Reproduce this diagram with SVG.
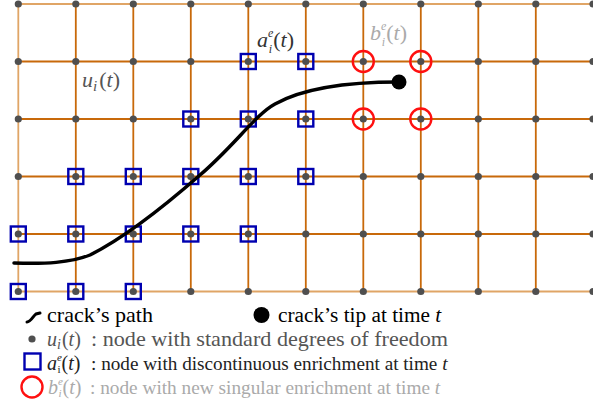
<svg xmlns="http://www.w3.org/2000/svg" width="593" height="407" viewBox="0 0 593 407">
<style>
.g{stroke:#c8690a;stroke-width:1.8;fill:none}
.ge{stroke:#e0a566;stroke-width:1.8;fill:none}
.d{fill:#4f4f4f}
.sq{fill:none;stroke:#0000b0;stroke-width:2.4}
.ci{fill:none;stroke:#ff1010;stroke-width:2.4}
.t{font-family:"Liberation Serif","Times New Roman",serif;font-size:20px}
.lb{font-size:22px}
.it{font-style:italic}
.crack{fill:none;stroke:#000;stroke-width:3.5;stroke-linecap:round}
</style>
<defs>
<circle id="dot" r="3.6" class="d"/>
<rect id="sqm" x="-7.5" y="-7.5" width="15" height="15" class="sq"/>
<circle id="cim" r="10.5" class="ci"/>
</defs>
<rect width="593" height="407" fill="#fff"/>
<g id="grid">
<g class="g">
<line x1="75.8" y1="4" x2="75.8" y2="291.5"/>
<line x1="133.3" y1="4" x2="133.3" y2="291.5"/>
<line x1="190.8" y1="4" x2="190.8" y2="291.5"/>
<line x1="248.3" y1="4" x2="248.3" y2="291.5"/>
<line x1="305.8" y1="4" x2="305.8" y2="291.5"/>
<line x1="363.3" y1="4" x2="363.3" y2="291.5"/>
<line x1="420.8" y1="4" x2="420.8" y2="291.5"/>
<line x1="478.3" y1="4" x2="478.3" y2="291.5"/>
<line x1="535.8" y1="4" x2="535.8" y2="291.5"/>
<line x1="18.3" y1="61.5" x2="593" y2="61.5"/>
<line x1="18.3" y1="119" x2="593" y2="119"/>
<line x1="18.3" y1="176.5" x2="593" y2="176.5"/>
<line x1="18.3" y1="234" x2="593" y2="234"/>
</g>
<g class="ge">
<line x1="18.3" y1="4" x2="18.3" y2="291.5"/>
<line x1="18.3" y1="4" x2="593" y2="4"/>
<line x1="18.3" y1="291.5" x2="593" y2="291.5"/>
</g>
</g>
<g id="nodes">
<g id="row0">
<use href="#dot" x="18.3" y="4"/><use href="#dot" x="75.8" y="4"/><use href="#dot" x="133.3" y="4"/><use href="#dot" x="190.8" y="4"/><use href="#dot" x="248.3" y="4"/><use href="#dot" x="305.8" y="4"/><use href="#dot" x="363.3" y="4"/><use href="#dot" x="420.8" y="4"/><use href="#dot" x="478.3" y="4"/><use href="#dot" x="535.8" y="4"/><use href="#dot" x="593" y="4"/>
</g>
<g id="row1">
<use href="#dot" x="18.3" y="61.5"/><use href="#dot" x="75.8" y="61.5"/><use href="#dot" x="133.3" y="61.5"/><use href="#dot" x="190.8" y="61.5"/><use href="#dot" x="248.3" y="61.5"/><use href="#dot" x="305.8" y="61.5"/><use href="#dot" x="363.3" y="61.5"/><use href="#dot" x="420.8" y="61.5"/><use href="#dot" x="478.3" y="61.5"/><use href="#dot" x="535.8" y="61.5"/><use href="#dot" x="593" y="61.5"/>
</g>
<g id="row2">
<use href="#dot" x="18.3" y="119"/><use href="#dot" x="75.8" y="119"/><use href="#dot" x="133.3" y="119"/><use href="#dot" x="190.8" y="119"/><use href="#dot" x="248.3" y="119"/><use href="#dot" x="305.8" y="119"/><use href="#dot" x="363.3" y="119"/><use href="#dot" x="420.8" y="119"/><use href="#dot" x="478.3" y="119"/><use href="#dot" x="535.8" y="119"/><use href="#dot" x="593" y="119"/>
</g>
<g id="row3">
<use href="#dot" x="18.3" y="176.5"/><use href="#dot" x="75.8" y="176.5"/><use href="#dot" x="133.3" y="176.5"/><use href="#dot" x="190.8" y="176.5"/><use href="#dot" x="248.3" y="176.5"/><use href="#dot" x="305.8" y="176.5"/><use href="#dot" x="363.3" y="176.5"/><use href="#dot" x="420.8" y="176.5"/><use href="#dot" x="478.3" y="176.5"/><use href="#dot" x="535.8" y="176.5"/><use href="#dot" x="593" y="176.5"/>
</g>
<g id="row4">
<use href="#dot" x="18.3" y="234"/><use href="#dot" x="75.8" y="234"/><use href="#dot" x="133.3" y="234"/><use href="#dot" x="190.8" y="234"/><use href="#dot" x="248.3" y="234"/><use href="#dot" x="305.8" y="234"/><use href="#dot" x="363.3" y="234"/><use href="#dot" x="420.8" y="234"/><use href="#dot" x="478.3" y="234"/><use href="#dot" x="535.8" y="234"/><use href="#dot" x="593" y="234"/>
</g>
<g id="row5">
<use href="#dot" x="18.3" y="291.5"/><use href="#dot" x="75.8" y="291.5"/><use href="#dot" x="133.3" y="291.5"/><use href="#dot" x="190.8" y="291.5"/><use href="#dot" x="248.3" y="291.5"/><use href="#dot" x="305.8" y="291.5"/><use href="#dot" x="363.3" y="291.5"/><use href="#dot" x="420.8" y="291.5"/><use href="#dot" x="478.3" y="291.5"/><use href="#dot" x="535.8" y="291.5"/><use href="#dot" x="593" y="291.5"/>
</g>
</g>
<g id="enriched-a">
<use href="#sqm" x="248.3" y="61.5"/><use href="#sqm" x="305.8" y="61.5"/>
<use href="#sqm" x="190.8" y="119"/><use href="#sqm" x="248.3" y="119"/><use href="#sqm" x="305.8" y="119"/>
<use href="#sqm" x="75.8" y="176.5"/><use href="#sqm" x="133.3" y="176.5"/><use href="#sqm" x="190.8" y="176.5"/><use href="#sqm" x="248.3" y="176.5"/><use href="#sqm" x="305.8" y="176.5"/>
<use href="#sqm" x="18.3" y="234"/><use href="#sqm" x="75.8" y="234"/><use href="#sqm" x="133.3" y="234"/><use href="#sqm" x="190.8" y="234"/><use href="#sqm" x="248.3" y="234"/>
<use href="#sqm" x="18.3" y="291.5"/><use href="#sqm" x="75.8" y="291.5"/><use href="#sqm" x="133.3" y="291.5"/>
</g>
<g id="enriched-b">
<use href="#cim" x="363.3" y="61.5"/><use href="#cim" x="420.8" y="61.5"/>
<use href="#cim" x="363.3" y="119"/><use href="#cim" x="420.8" y="119"/>
</g>
<g id="crack">
<path class="crack" d="M14,263 C45,264 70,263 90,255 C120,240 160,210 200,175 C235,145 255,115 275,104 C300,90 340,82 399,82"/>
<circle cx="399" cy="82" r="7.5" fill="#000"/>
</g>
<g id="labels">
<text class="t lb" x="82" y="87" fill="#555"><tspan class="it">u</tspan><tspan class="it" font-size="15" dy="4">i</tspan><tspan dy="-4" dx="2">(</tspan><tspan class="it">t</tspan>)</text>
<text class="t lb" x="257" y="47" fill="#333"><tspan class="it">a</tspan><tspan class="it" font-size="12" dy="-10">e</tspan><tspan class="it" font-size="12" dx="-4.5" dy="16">i</tspan><tspan dy="-6" dx="1">(</tspan><tspan class="it">t</tspan>)</text>
<text class="t lb" x="370" y="40" fill="#aaa"><tspan class="it">b</tspan><tspan class="it" font-size="12" dy="-10">e</tspan><tspan class="it" font-size="12" dx="-4.5" dy="16">i</tspan><tspan dy="-6" dx="1">(</tspan><tspan class="it">t</tspan>)</text>
</g>
<g id="legend">
<path d="M27,322 C31,322 33,316 36,314 L40,313" fill="none" stroke="#000" stroke-width="3" stroke-linecap="round"/>
<text class="t" x="47" y="322" fill="#000" style="font-size:21px" textLength="106" lengthAdjust="spacingAndGlyphs">crack’s path</text>
<circle cx="261.5" cy="315" r="8" fill="#000"/>
<text class="t" x="278" y="322" fill="#000" style="font-size:21.3px">crack’s tip at time <tspan class="it">t</tspan></text>
<circle cx="32" cy="339" r="3.6" class="d"/>
<text class="t" x="47" y="346" fill="#555"><tspan class="it">u</tspan><tspan class="it" font-size="14" dy="3">i</tspan><tspan dy="-3" dx="1">(</tspan><tspan class="it">t</tspan>)</text>
<text class="t" x="91" y="346" fill="#555" style="font-size:21px" textLength="357" lengthAdjust="spacingAndGlyphs">: node with standard degrees of freedom</text>
<rect x="24.5" y="353.5" width="16" height="16" class="sq"/>
<text class="t" x="47" y="370" fill="#222"><tspan class="it">a</tspan><tspan class="it" font-size="11" dy="-9">e</tspan><tspan font-size="11" dx="-4.5" dy="12">i</tspan><tspan dy="-3" dx="1">(</tspan><tspan class="it">t</tspan>)</text>
<text class="t" x="91" y="370" fill="#222" style="font-size:19.2px">: node with discontinuous enrichment at time <tspan class="it">t</tspan></text>
<circle cx="32" cy="387" r="10.5" class="ci"/>
<text class="t" x="48" y="394" fill="#aaa"><tspan class="it">b</tspan><tspan class="it" font-size="11" dy="-9">e</tspan><tspan class="it" font-size="11" dx="-4.5" dy="12">i</tspan><tspan dy="-3" dx="1">(</tspan><tspan class="it">t</tspan>)</text>
<text class="t" x="90" y="394" fill="#aaa" style="font-size:19.3px">: node with new singular enrichment at time <tspan class="it">t</tspan></text>
</g>
</svg>
